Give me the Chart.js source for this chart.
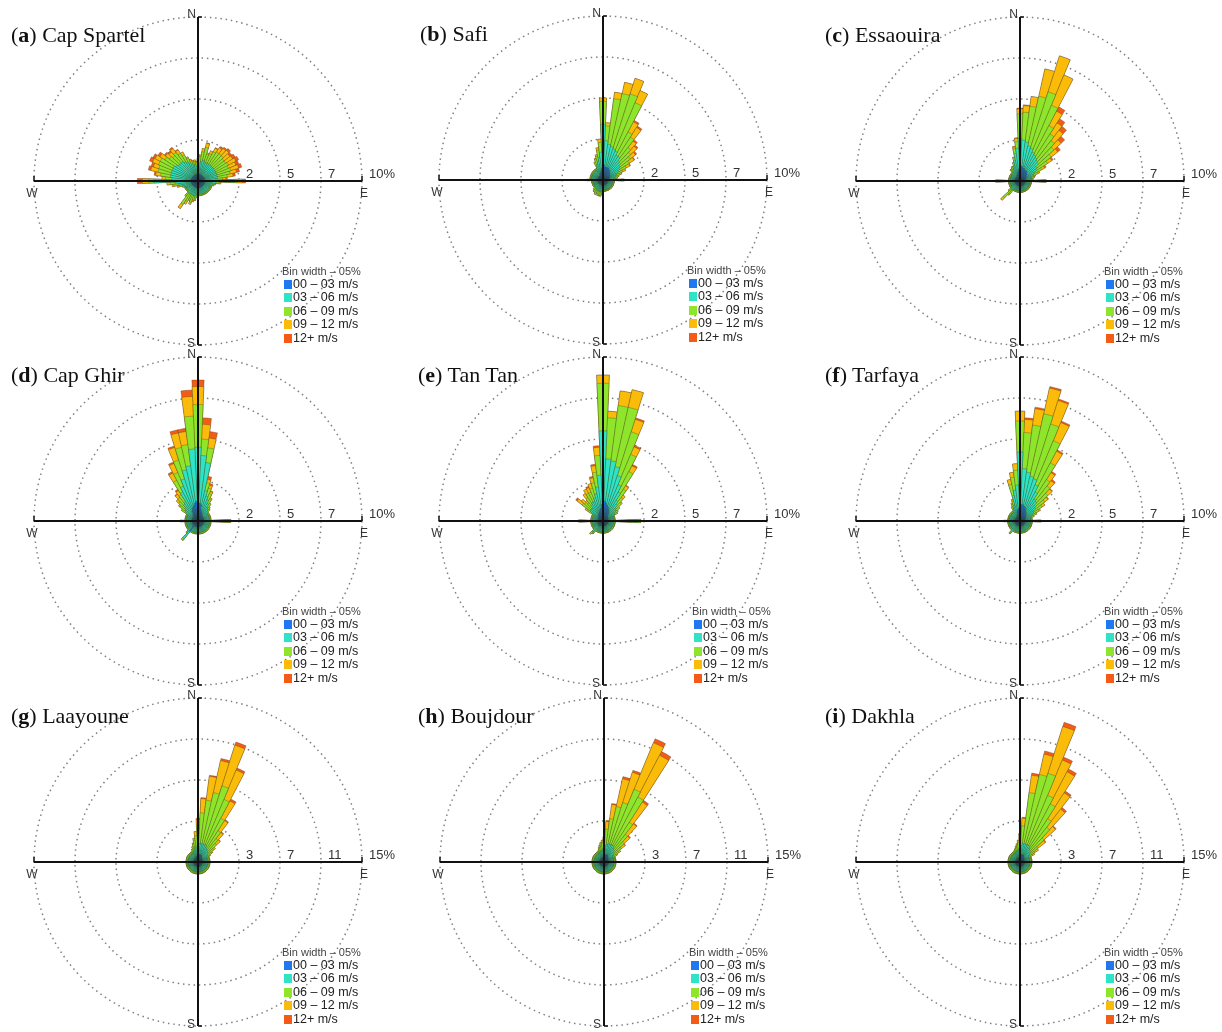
<!DOCTYPE html>
<html>
<head>
<meta charset="utf-8">
<title>Wind roses</title>
<script src="https://cdn.jsdelivr.net/npm/chart.js@4.4.1/dist/chart.umd.min.js"></script>
<style>
  body { margin: 0; background: #fff; width: 1222px; height: 1032px; position: relative; overflow: hidden; font-family: 'Liberation Sans', Arial, sans-serif; }
  .panel { position: absolute; width: 410px; height: 360px; }
  .title { position: absolute; font-family: 'Liberation Serif', 'Times New Roman', serif; font-size: 22px; line-height: 22px; color: #111; white-space: nowrap; }
  .legend { position: absolute; color: #222; white-space: nowrap; }
  .legend .head { font-size: 11px; line-height: 13px; color: #444; }
  .legend .row { font-size: 12.5px; line-height: 13.4px; height: 13.4px; padding-left: 2px; }
  .legend .sw { display: inline-block; width: 8px; height: 9px; margin-right: 1px; vertical-align: -1px; }
</style>
</head>
<body>
<script>
// direction bins (degrees, 5° wide)
const directions = [0,5,10,15,20,25,30,35,40,45,50,55,60,65,70,75,80,85,90,95,100,105,110,115,
  120,125,130,135,140,145,150,155,160,165,170,175,180,185,190,195,200,205,210,215,220,225,230,235,
  240,245,250,255,260,265,270,275,280,285,290,295,300,305,310,315,320,325,330,335,340,345,350,355];

const speedLabels = ['00 – 03 m/s', '03 – 06 m/s', '06 – 09 m/s', '09 – 12 m/s', '12+ m/s'];
const speedColors = ['#1f78f0', '#2fe3c6', '#8fe52b', '#fbbc09', '#f45b16'];
const ringLabels10 = ['2', '5', '7', '10%'];
const ringLabels15 = ['3', '7', '11', '15%'];

// (a) Cap Spartel
const aBlue = [0.4,0.4,0.4,0.4,0.4,0.4,0.4,0.4,0.4,0.4,0.4,0.4,
  0.4,0.4,0.4,0.4,0.4,0.4,0.4,0.4,0.4,0.4,0.4,0.4,
  0.4,0.4,0.4,0.4,0.4,0.4,0.4,0.4,0.4,0.4,0.4,0.4,
  0.4,0.4,0.4,0.4,0.4,0.4,0.4,0.4,0.4,0.4,0.4,0.4,
  0.4,0.4,0.4,0.4,0.4,0.4,0.4,0.4,0.4,0.4,0.4,0.4,
  0.4,0.4,0.4,0.4,0.4,0.4,0.4,0.4,0.4,0.4,0.4,0.4];
const aCyan = [0.6,0.7,0.8,0.9,0.8,0.8,0.8,0.8,0.8,0.8,0.8,0.8,
  0.8,0.8,0.8,0.8,0.8,0.7,1.8,0.7,0.5,0.5,0.4,0.4,
  0.4,0.4,0.4,0.4,0.4,0.4,0.4,0.4,0.4,0.4,0.4,0.4,
  0.4,0.4,0.5,0.5,0.5,0.5,0.5,0.5,0.5,0.4,0.4,0.4,
  0.4,0.4,0.5,0.6,0.8,1.0,2.3,1.2,1.3,1.3,1.3,1.3,
  1.3,1.2,1.1,1.1,1.1,1.0,0.9,0.8,0.7,0.6,0.6,0.5];
const aGreen = [0.3,0.4,0.6,0.8,0.5,0.6,0.8,0.9,0.9,0.9,0.8,0.8,
  0.9,0.8,0.9,0.8,0.6,0.4,0.2,0.2,0.15,0.1,0.1,0.1,
  0.1,0.1,0.1,0.1,0.1,0.1,0.1,0.1,0.1,0.1,0.1,0.1,
  0.1,0.2,0.3,0.3,0.5,0.3,0.5,0.8,0.2,0.1,0.1,0.1,
  0.1,0.1,0.1,0.2,0.3,0.3,0.3,0.4,0.6,0.8,0.8,0.9,
  0.9,0.8,0.7,0.6,0.7,0.6,0.5,0.3,0.2,0.2,0.2,0.2];
const aYellow = [0.1,0.1,0.2,0.25,0.1,0.2,0.25,0.3,0.4,0.45,0.45,0.5,
  0.5,0.5,0.5,0.4,0.35,0.2,0.3,0.1,0.05,0,0,0,
  0,0,0,0,0,0,0,0,0,0,0,0,
  0,0,0,0.1,0.1,0.1,0.2,0.3,0.1,0,0,0,
  0,0,0,0.1,0.1,0.2,0.4,0.2,0.3,0.45,0.35,0.4,
  0.35,0.35,0.3,0.3,0.3,0.25,0.2,0.1,0.1,0.1,0.1,0.1];
const aRed = [0,0,0,0.05,0,0,0.05,0.1,0.1,0.15,0.15,0.2,
  0.2,0.2,0.2,0.2,0.15,0.1,0.2,0,0,0,0,0,
  0,0,0,0,0,0,0,0,0,0,0,0,
  0,0,0,0,0,0,0,0,0,0,0,0,
  0,0,0,0,0,0,0.3,0,0.1,0.15,0.15,0.2,
  0.15,0.15,0.1,0.1,0.1,0.05,0,0,0,0,0,0];

// (b) Safi
const bBlue = [1.0,0.9,0.8,0.8,0.8,0.8,0.7,0.7,0.6,0.6,0.5,0.5,
  0.5,0.4,0.4,0.4,0.3,0.3,0.3,0.3,0.3,0.3,0.3,0.3,
  0.3,0.3,0.3,0.3,0.3,0.3,0.3,0.3,0.3,0.3,0.3,0.3,
  0.3,0.3,0.3,0.3,0.3,0.3,0.3,0.3,0.3,0.3,0.3,0.3,
  0.3,0.3,0.3,0.3,0.3,0.3,0.3,0.3,0.3,0.3,0.3,0.3,
  0.3,0.3,0.3,0.3,0.3,0.3,0.3,0.4,0.4,0.5,0.6,0.7];
const bCyan = [2.4,1.5,1.4,1.3,1.2,1.1,1.0,1.0,0.9,0.8,0.8,0.7,
  0.6,0.5,0.4,0.4,0.4,0.35,0.9,0.3,0.3,0.3,0.3,0.3,
  0.3,0.3,0.3,0.3,0.3,0.3,0.3,0.3,0.3,0.3,0.3,0.3,
  0.4,0.4,0.4,0.4,0.4,0.4,0.4,0.4,0.4,0.3,0.3,0.3,
  0.3,0.3,0.3,0.3,0.3,0.3,0.6,0.4,0.4,0.4,0.4,0.4,
  0.4,0.4,0.4,0.4,0.4,0.4,0.4,0.5,0.6,0.7,0.8,1.0];
const bGreen = [1.4,0.9,2.8,3.3,3.5,3.2,1.6,1.4,1.0,0.9,0.8,0.7,
  0.5,0.4,0.3,0.2,0.2,0.15,0.1,0.1,0.1,0.1,0.1,0.1,
  0.1,0.1,0.1,0.1,0.1,0.1,0.1,0.1,0.1,0.1,0.1,0.1,
  0.1,0.2,0.3,0.3,0.3,0.2,0.3,0.2,0.2,0.2,0.1,0.1,
  0.1,0.1,0.1,0.1,0.1,0.1,0.1,0.1,0.1,0.1,0.1,0.1,
  0.1,0.1,0.1,0.1,0.1,0.1,0.1,0.3,0.35,0.3,0.45,0.6];
const bYellow = [0.2,0.2,0.4,0.7,1.0,0.8,0.7,0.7,0.5,0.5,0.4,0.35,
  0.25,0.2,0.1,0,0,0,0,0,0,0,0,0,
  0,0,0,0,0,0,0,0,0,0,0,0,
  0,0,0,0,0,0,0,0,0,0,0,0,
  0,0,0,0,0,0,0,0,0,0,0,0,
  0,0,0,0,0,0,0,0,0.05,0.1,0.15,0.2];
const bRed = [0,0,0,0,0,0,0.1,0.1,0.1,0.1,0.1,0.05,
  0.05,0,0,0,0,0,0,0,0,0,0,0,
  0,0,0,0,0,0,0,0,0,0,0,0,
  0,0,0,0,0,0,0,0,0,0,0,0,
  0,0,0,0,0,0,0,0,0,0,0,0,
  0,0,0,0,0,0,0,0,0,0,0,0];

// (c) Essaouira
const cBlue = [0.9,0.9,0.9,0.8,0.8,0.7,0.7,0.7,0.6,0.6,0.5,0.5,
  0.4,0.4,0.3,0.3,0.3,0.3,0.3,0.3,0.3,0.3,0.3,0.3,
  0.3,0.3,0.3,0.3,0.3,0.3,0.3,0.3,0.3,0.3,0.3,0.3,
  0.3,0.3,0.3,0.3,0.3,0.3,0.3,0.3,0.3,0.3,0.3,0.3,
  0.3,0.3,0.3,0.3,0.3,0.3,0.3,0.3,0.3,0.3,0.3,0.3,
  0.3,0.3,0.3,0.3,0.3,0.3,0.3,0.4,0.4,0.5,0.6,0.7];
const cCyan = [1.7,1.6,1.5,1.4,1.3,1.2,1.1,1.0,1.0,0.9,0.8,0.7,
  0.6,0.5,0.4,0.4,0.4,0.4,1.2,0.3,0.3,0.3,0.3,0.3,
  0.3,0.3,0.3,0.3,0.3,0.3,0.3,0.3,0.3,0.3,0.3,0.3,
  0.3,0.3,0.3,0.3,0.3,0.3,0.3,0.3,0.4,0.4,0.4,0.3,
  0.3,0.3,0.3,0.3,0.3,0.3,1.1,0.3,0.3,0.3,0.3,0.3,
  0.3,0.3,0.3,0.3,0.4,0.4,0.5,0.5,0.6,0.8,1.1,1.3];
const cGreen = [1.5,1.7,2.2,3.1,3.6,3.1,2.0,1.7,1.5,1.3,1.1,0.8,
  0.5,0.3,0.2,0.2,0.1,0.1,0.1,0.1,0.1,0.1,0.1,0.1,
  0.1,0.1,0.1,0.1,0.1,0.1,0.1,0.1,0.1,0.1,0.1,0.1,
  0.1,0.1,0.1,0.1,0.1,0.1,0.1,0.1,0.3,0.7,0.2,0.1,
  0.1,0.1,0.1,0.1,0.1,0.1,0.1,0.1,0.1,0.1,0.1,0.1,
  0.1,0.1,0.1,0.1,0.2,0.2,0.2,0.1,0.2,0.2,0.3,0.4];
const cYellow = [0.3,0.4,0.6,1.7,2.3,2.0,1.0,0.8,0.8,0.6,0.5,0.3,
  0.2,0.1,0.1,0,0,0,0,0,0,0,0,0,
  0,0,0,0,0,0,0,0,0,0,0,0,
  0,0,0,0,0,0,0,0,0.1,0.2,0,0,
  0,0,0,0,0,0,0,0,0,0,0,0,
  0,0,0,0,0,0,0,0,0,0,0.1,0.2];
const cRed = [0.05,0.05,0,0,0,0,0.3,0.3,0.3,0.3,0.2,0.1,
  0.1,0,0,0,0,0,0,0,0,0,0,0,
  0,0,0,0,0,0,0,0,0,0,0,0,
  0,0,0,0,0,0,0,0,0,0,0,0,
  0,0,0,0,0,0,0,0,0,0,0,0,
  0,0,0,0,0,0,0,0,0,0,0.05,0.05];

// (d) Cap Ghir
const dBlue = [1.2,1.1,1.0,0.7,0.6,0.5,0.5,0.4,0.4,0.4,0.35,0.35,
  0.35,0.35,0.35,0.35,0.35,0.35,0.35,0.35,0.35,0.35,0.35,0.35,
  0.35,0.35,0.35,0.35,0.35,0.35,0.35,0.35,0.35,0.35,0.35,0.35,
  0.35,0.35,0.35,0.35,0.35,0.35,0.35,0.35,0.8,0.5,0.35,0.35,
  0.35,0.35,0.35,0.35,0.35,0.35,0.35,0.35,0.35,0.35,0.35,0.35,
  0.35,0.4,0.4,0.4,0.5,0.5,0.7,0.8,0.9,1.0,1.1,1.2];
const dCyan = [3.3,2.9,2.6,1.2,1.0,0.9,0.7,0.6,0.5,0.4,0.35,0.35,
  0.35,0.35,0.35,0.35,0.35,0.35,1.5,0.35,0.35,0.35,0.35,0.35,
  0.35,0.35,0.35,0.35,0.35,0.35,0.35,0.35,0.35,0.35,0.35,0.35,
  0.35,0.35,0.35,0.35,0.35,0.35,0.35,0.35,0.6,0.4,0.35,0.35,
  0.35,0.35,0.35,0.35,0.35,0.35,0.65,0.35,0.35,0.35,0.35,0.35,
  0.35,0.5,0.6,0.7,0.8,0.9,1.3,1.5,1.8,2.2,2.3,3.2];
const dGreen = [2.6,1.0,0.9,0.5,0.5,0.4,0.3,0.3,0.2,0.2,0.1,0.1,
  0.1,0.1,0.1,0.1,0.1,0.1,0.15,0.1,0.1,0.1,0.1,0.1,
  0.1,0.1,0.1,0.1,0.1,0.1,0.1,0.1,0.1,0.1,0.1,0.1,
  0.1,0.1,0.1,0.1,0.1,0.1,0.1,0.1,0.1,0.1,0.1,0.1,
  0.1,0.1,0.1,0.1,0.1,0.1,0.1,0.1,0.1,0.1,0.1,0.1,
  0.1,0.3,0.4,0.5,0.5,0.5,0.8,0.9,1.2,1.4,1.3,2.0];
const dYellow = [1.1,0.9,0.6,0.2,0.2,0.15,0.1,0,0,0,0,0,
  0,0,0,0,0,0,0,0,0,0,0,0,
  0,0,0,0,0,0,0,0,0,0,0,0,
  0,0,0,0,0,0,0,0,0,0,0,0,
  0,0,0,0,0,0,0,0,0,0,0,0,
  0,0,0.1,0.2,0.25,0.3,0.5,0.6,0.8,0.9,0.8,1.2];
const dRed = [0.4,0.4,0.4,0.2,0.1,0.05,0,0,0,0,0,0,
  0,0,0,0,0,0,0,0,0,0,0,0,
  0,0,0,0,0,0,0,0,0,0,0,0,
  0,0,0,0,0,0,0,0,0,0,0,0,
  0,0,0,0,0,0,0,0,0,0,0,0,
  0,0,0,0,0.05,0.1,0.1,0.1,0.1,0.2,0.2,0.4];

// (e) Tan Tan
const eBlue = [1.4,1.2,1.1,1.0,0.9,0.8,0.7,0.6,0.5,0.4,0.4,0.35,
  0.35,0.3,0.3,0.3,0.3,0.3,0.3,0.3,0.3,0.3,0.3,0.3,
  0.3,0.3,0.3,0.3,0.3,0.3,0.3,0.3,0.3,0.3,0.3,0.3,
  0.3,0.3,0.3,0.3,0.3,0.3,0.3,0.3,0.4,0.4,0.3,0.3,
  0.3,0.3,0.3,0.3,0.3,0.3,0.3,0.3,0.3,0.3,0.3,0.3,
  0.3,0.3,0.4,0.4,0.4,0.5,0.5,0.5,0.6,0.7,0.8,1.0];
const eCyan = [4.1,2.6,2.6,2.4,2.0,1.6,1.3,0.9,0.8,0.7,0.6,0.5,
  0.45,0.35,0.35,0.35,0.35,0.35,1.8,0.35,0.35,0.35,0.35,0.35,
  0.35,0.35,0.35,0.35,0.35,0.35,0.35,0.35,0.35,0.35,0.35,0.35,
  0.35,0.35,0.35,0.35,0.35,0.35,0.35,0.35,0.5,0.5,0.35,0.35,
  0.35,0.35,0.35,0.35,0.35,0.35,1.1,0.35,0.35,0.35,0.35,0.35,
  0.35,0.5,0.6,0.6,0.6,0.7,0.8,0.8,0.9,1.0,1.3,1.8];
const eGreen = [2.9,2.5,3.4,3.7,2.8,2.0,1.4,0.8,0.5,0.4,0.3,0.25,
  0.2,0.1,0.1,0.1,0.1,0.1,0.2,0.1,0.1,0.1,0.1,0.1,
  0.1,0.1,0.1,0.1,0.1,0.1,0.1,0.1,0.1,0.1,0.1,0.1,
  0.1,0.1,0.1,0.1,0.1,0.1,0.1,0.1,0.1,0.2,0.1,0.1,
  0.1,0.1,0.1,0.1,0.1,0.1,0.1,0.1,0.1,0.1,0.1,0.1,
  0.1,0.3,0.6,0.5,0.4,0.5,0.6,0.6,0.6,0.7,0.9,1.2];
const eYellow = [0.5,0.4,0.9,1.1,0.8,0.5,0.4,0.25,0.2,0.1,0,0,
  0,0,0,0,0,0,0,0,0,0,0,0,
  0,0,0,0,0,0,0,0,0,0,0,0,
  0,0,0,0,0,0,0,0,0,0,0,0,
  0,0,0,0,0,0,0,0,0,0,0,0,
  0,0.2,0.4,0.3,0.2,0.3,0.3,0.3,0.3,0.3,0.4,0.5];
const eRed = [0,0,0,0,0.1,0.1,0.1,0.05,0,0,0,0,
  0,0,0,0,0,0,0,0,0,0,0,0,
  0,0,0,0,0,0,0,0,0,0,0,0,
  0,0,0,0,0,0,0,0,0,0,0,0,
  0,0,0,0,0,0,0,0,0,0,0,0,
  0,0,0.1,0,0,0,0,0.1,0,0.1,0.1,0.1];

// (f) Tarfaya
const fBlue = [1.1,1.0,1.0,0.9,0.9,0.8,0.7,0.6,0.6,0.5,0.5,0.4,
  0.4,0.35,0.3,0.3,0.3,0.3,0.3,0.3,0.3,0.3,0.3,0.3,
  0.3,0.3,0.3,0.3,0.3,0.3,0.3,0.3,0.3,0.3,0.3,0.3,
  0.3,0.3,0.3,0.3,0.3,0.3,0.3,0.3,0.4,0.3,0.3,0.3,
  0.3,0.3,0.3,0.3,0.3,0.3,0.3,0.3,0.3,0.3,0.3,0.3,
  0.3,0.3,0.3,0.3,0.3,0.3,0.3,0.4,0.4,0.6,0.7,0.8];
const fCyan = [3.1,2.2,2.0,1.9,1.8,1.6,1.3,1.0,0.9,0.8,0.7,0.6,
  0.5,0.45,0.4,0.35,0.35,0.35,0.9,0.35,0.35,0.35,0.35,0.35,
  0.35,0.35,0.35,0.35,0.35,0.35,0.35,0.35,0.35,0.35,0.35,0.35,
  0.35,0.35,0.35,0.35,0.35,0.35,0.35,0.35,0.5,0.35,0.35,0.35,
  0.35,0.35,0.35,0.35,0.35,0.35,0.6,0.35,0.35,0.35,0.35,0.35,
  0.35,0.35,0.35,0.35,0.35,0.35,0.5,0.5,0.6,1.0,1.2,1.4];
const fGreen = [1.9,2.2,2.9,3.9,3.5,2.9,2.0,1.4,1.2,1.0,0.7,0.6,
  0.4,0.3,0.2,0.1,0.1,0.1,0.1,0.1,0.1,0.1,0.1,0.1,
  0.1,0.1,0.1,0.1,0.1,0.1,0.1,0.1,0.1,0.1,0.1,0.1,
  0.1,0.1,0.1,0.1,0.1,0.1,0.1,0.1,0.1,0.1,0.1,0.1,
  0.1,0.1,0.1,0.1,0.1,0.1,0.1,0.1,0.1,0.1,0.1,0.1,
  0.1,0.1,0.1,0.1,0.1,0.1,0.2,0.2,0.3,0.7,0.8,0.9];
const fYellow = [0.6,0.8,1.0,1.6,1.5,1.2,0.8,0.5,0.4,0.35,0.25,0.2,
  0.1,0,0,0,0,0,0,0,0,0,0,0,
  0,0,0,0,0,0,0,0,0,0,0,0,
  0,0,0,0,0,0,0,0,0,0,0,0,
  0,0,0,0,0,0,0,0,0,0,0,0,
  0,0,0,0,0,0,0,0.1,0.1,0.3,0.3,0.4];
const fRed = [0,0.1,0.1,0.1,0.1,0.1,0.1,0.1,0.1,0.05,0.05,0,
  0,0,0,0,0,0,0,0,0,0,0,0,
  0,0,0,0,0,0,0,0,0,0,0,0,
  0,0,0,0,0,0,0,0,0,0,0,0,
  0,0,0,0,0,0,0,0,0,0,0,0,
  0,0,0,0,0,0,0,0,0,0,0,0];

// (g) Laayoune
const gBlue = [0.6,0.7,0.7,0.7,0.7,0.7,0.6,0.6,0.5,0.5,0.5,0.4,
  0.4,0.4,0.4,0.4,0.4,0.4,0.4,0.4,0.4,0.4,0.4,0.4,
  0.4,0.4,0.4,0.4,0.4,0.4,0.4,0.4,0.4,0.4,0.4,0.4,
  0.4,0.4,0.4,0.4,0.4,0.4,0.4,0.4,0.4,0.4,0.4,0.4,
  0.4,0.4,0.4,0.4,0.4,0.4,0.4,0.4,0.4,0.4,0.4,0.4,
  0.4,0.4,0.4,0.4,0.4,0.4,0.4,0.4,0.4,0.5,0.5,0.5];
const gCyan = [1.0,1.0,1.0,1.0,1.0,1.0,0.9,0.8,0.8,0.7,0.6,0.6,
  0.5,0.5,0.5,0.5,0.5,0.5,0.5,0.5,0.5,0.5,0.5,0.5,
  0.5,0.5,0.5,0.5,0.5,0.5,0.5,0.5,0.5,0.5,0.5,0.5,
  0.5,0.5,0.5,0.5,0.5,0.5,0.5,0.5,0.5,0.5,0.5,0.5,
  0.5,0.5,0.5,0.5,0.5,0.5,0.5,0.5,0.5,0.5,0.5,0.5,
  0.5,0.5,0.5,0.5,0.5,0.5,0.5,0.6,0.7,0.7,0.8,0.9];
const gGreen = [1.8,2.8,4.0,4.8,5.6,4.5,3.0,2.0,1.4,1.1,0.7,0.5,
  0.3,0.2,0.2,0.2,0.2,0.2,0.2,0.2,0.2,0.2,0.2,0.2,
  0.2,0.2,0.2,0.2,0.2,0.2,0.2,0.2,0.2,0.2,0.2,0.2,
  0.2,0.2,0.2,0.2,0.2,0.2,0.2,0.2,0.2,0.2,0.2,0.2,
  0.2,0.2,0.2,0.2,0.2,0.2,0.2,0.2,0.2,0.2,0.2,0.2,
  0.2,0.2,0.2,0.2,0.2,0.2,0.2,0.3,0.4,0.5,0.7,1.0];
const gYellow = [0.5,1.3,2.2,3.0,3.9,2.9,1.8,1.1,0.7,0.45,0.2,0.1,
  0.1,0,0,0,0,0,0,0,0,0,0,0,
  0,0,0,0,0,0,0,0,0,0,0,0,
  0,0,0,0,0,0,0,0,0,0,0,0,
  0,0,0,0,0,0,0,0,0,0,0,0,
  0,0,0,0,0,0,0,0,0,0.1,0.2,0.4];
const gRed = [0.1,0.1,0.1,0.2,0.3,0.2,0.2,0.1,0.1,0.05,0,0,
  0,0,0,0,0,0,0,0,0,0,0,0,
  0,0,0,0,0,0,0,0,0,0,0,0,
  0,0,0,0,0,0,0,0,0,0,0,0,
  0,0,0,0,0,0,0,0,0,0,0,0,
  0,0,0,0,0,0,0,0,0,0,0,0];

// (h) Boujdour
const hBlue = [0.5,0.6,0.6,0.7,0.7,0.7,0.7,0.6,0.6,0.5,0.5,0.4,
  0.4,0.4,0.4,0.4,0.4,0.4,0.4,0.4,0.4,0.4,0.4,0.4,
  0.4,0.4,0.4,0.4,0.4,0.4,0.4,0.4,0.4,0.4,0.4,0.4,
  0.4,0.4,0.4,0.4,0.4,0.4,0.4,0.4,0.4,0.4,0.4,0.4,
  0.4,0.4,0.4,0.4,0.4,0.4,0.4,0.4,0.4,0.4,0.4,0.4,
  0.4,0.4,0.4,0.4,0.4,0.4,0.4,0.4,0.4,0.4,0.4,0.5];
const hCyan = [0.8,0.9,1.0,1.0,1.0,1.0,1.0,0.9,0.8,0.7,0.6,0.6,
  0.5,0.5,0.5,0.5,0.5,0.5,0.5,0.5,0.5,0.5,0.5,0.5,
  0.5,0.5,0.5,0.5,0.5,0.5,0.5,0.5,0.5,0.5,0.5,0.5,
  0.5,0.5,0.5,0.5,0.5,0.5,0.5,0.5,0.5,0.5,0.5,0.5,
  0.5,0.5,0.5,0.5,0.5,0.5,0.5,0.5,0.5,0.5,0.5,0.5,
  0.5,0.5,0.5,0.5,0.5,0.5,0.5,0.5,0.6,0.6,0.7,0.7];
const hGreen = [0.8,1.5,2.4,3.5,4.0,5.5,5.0,2.8,1.8,1.3,0.9,0.6,
  0.4,0.2,0.2,0.2,0.2,0.2,0.2,0.2,0.2,0.2,0.2,0.2,
  0.2,0.2,0.2,0.2,0.2,0.2,0.2,0.2,0.2,0.2,0.2,0.2,
  0.2,0.2,0.2,0.2,0.2,0.2,0.2,0.2,0.2,0.2,0.2,0.2,
  0.2,0.2,0.2,0.2,0.2,0.2,0.2,0.2,0.2,0.2,0.2,0.2,
  0.2,0.2,0.2,0.2,0.2,0.2,0.2,0.3,0.4,0.5,0.6,0.6];
const hYellow = [0.2,0.7,1.3,2.6,2.9,4.6,4.3,2.2,1.2,0.7,0.45,0.2,
  0.1,0,0,0,0,0,0,0,0,0,0,0,
  0,0,0,0,0,0,0,0,0,0,0,0,
  0,0,0,0,0,0,0,0,0,0,0,0,
  0,0,0,0,0,0,0,0,0,0,0,0,
  0,0,0,0,0,0,0,0,0,0.1,0.1,0.2];
const hRed = [0,0.1,0.1,0.2,0.2,0.4,0.4,0.2,0.1,0.1,0.05,0,
  0,0,0,0,0,0,0,0,0,0,0,0,
  0,0,0,0,0,0,0,0,0,0,0,0,
  0,0,0,0,0,0,0,0,0,0,0,0,
  0,0,0,0,0,0,0,0,0,0,0,0,
  0,0,0,0,0,0,0,0,0,0,0,0];

// (i) Dakhla
const iBlue = [0.5,0.6,0.7,0.7,0.7,0.7,0.7,0.6,0.6,0.5,0.5,0.4,
  0.4,0.4,0.4,0.4,0.4,0.4,0.4,0.4,0.4,0.4,0.4,0.4,
  0.4,0.4,0.4,0.4,0.4,0.4,0.4,0.4,0.4,0.4,0.4,0.4,
  0.4,0.4,0.4,0.4,0.4,0.4,0.4,0.4,0.4,0.4,0.4,0.4,
  0.4,0.4,0.4,0.4,0.4,0.4,0.4,0.4,0.4,0.4,0.4,0.4,
  0.4,0.4,0.4,0.4,0.4,0.4,0.4,0.4,0.4,0.4,0.4,0.5];
const iCyan = [0.8,0.9,1.0,1.0,1.0,1.0,1.0,0.9,0.8,0.7,0.6,0.6,
  0.5,0.5,0.5,0.5,0.5,0.5,0.5,0.5,0.5,0.5,0.5,0.5,
  0.5,0.5,0.5,0.5,0.5,0.5,0.5,0.5,0.5,0.5,0.5,0.5,
  0.5,0.5,0.5,0.5,0.5,0.5,0.5,0.5,0.5,0.5,0.5,0.5,
  0.5,0.5,0.5,0.5,0.5,0.5,0.5,0.5,0.5,0.5,0.5,0.5,
  0.5,0.5,0.5,0.5,0.5,0.5,0.5,0.5,0.6,0.6,0.7,0.7];
const iGreen = [1.0,1.8,4.7,6.5,6.8,4.9,4.3,3.2,2.6,1.8,1.0,0.6,
  0.4,0.2,0.2,0.2,0.2,0.2,0.2,0.2,0.2,0.2,0.2,0.2,
  0.2,0.2,0.2,0.2,0.2,0.2,0.2,0.2,0.2,0.2,0.2,0.2,
  0.2,0.2,0.2,0.2,0.2,0.2,0.2,0.2,0.2,0.2,0.2,0.2,
  0.2,0.2,0.2,0.2,0.2,0.2,0.2,0.2,0.2,0.2,0.2,0.2,
  0.2,0.2,0.2,0.2,0.2,0.2,0.2,0.3,0.3,0.4,0.5,0.6];
const iYellow = [0.3,0.7,1.6,1.9,4.5,3.5,3.3,2.8,2.1,1.4,0.8,0.4,
  0.2,0,0,0,0,0,0,0,0,0,0,0,
  0,0,0,0,0,0,0,0,0,0,0,0,
  0,0,0,0,0,0,0,0,0,0,0,0,
  0,0,0,0,0,0,0,0,0,0,0,0,
  0,0,0,0,0,0,0,0,0,0.1,0.1,0.2];
const iRed = [0,0.1,0.2,0.3,0.4,0.3,0.3,0.2,0.2,0.1,0.1,0,
  0,0,0,0,0,0,0,0,0,0,0,0,
  0,0,0,0,0,0,0,0,0,0,0,0,
  0,0,0,0,0,0,0,0,0,0,0,0,
  0,0,0,0,0,0,0,0,0,0,0,0,
  0,0,0,0,0,0,0,0,0,0,0,0];

// panel layout
const panels = [
  { tag: 'a', name: 'Cap Spartel', cx: 198, cy: 181, tx: 11, max: 10, rings: ringLabels10, series: [aBlue, aCyan, aGreen, aYellow, aRed], ldx: 85 },
  { tag: 'b', name: 'Safi', cx: 603, cy: 180, tx: 420, max: 10, rings: ringLabels10, series: [bBlue, bCyan, bGreen, bYellow, bRed], ldx: 85 },
  { tag: 'c', name: 'Essaouira', cx: 1020, cy: 181, tx: 825, max: 10, rings: ringLabels10, series: [cBlue, cCyan, cGreen, cYellow, cRed], ldx: 85 },
  { tag: 'd', name: 'Cap Ghir', cx: 198, cy: 521, tx: 11, max: 10, rings: ringLabels10, series: [dBlue, dCyan, dGreen, dYellow, dRed], ldx: 85 },
  { tag: 'e', name: 'Tan Tan', cx: 603, cy: 521, tx: 418, max: 10, rings: ringLabels10, series: [eBlue, eCyan, eGreen, eYellow, eRed], ldx: 90 },
  { tag: 'f', name: 'Tarfaya', cx: 1020, cy: 521, tx: 825, max: 10, rings: ringLabels10, series: [fBlue, fCyan, fGreen, fYellow, fRed], ldx: 85 },
  { tag: 'g', name: 'Laayoune', cx: 198, cy: 862, tx: 11, max: 15, rings: ringLabels15, series: [gBlue, gCyan, gGreen, gYellow, gRed], ldx: 85 },
  { tag: 'h', name: 'Boujdour', cx: 604, cy: 862, tx: 418, max: 15, rings: ringLabels15, series: [hBlue, hCyan, hGreen, hYellow, hRed], ldx: 86 },
  { tag: 'i', name: 'Dakhla', cx: 1020, cy: 862, tx: 825, max: 15, rings: ringLabels15, series: [iBlue, iCyan, iGreen, iYellow, iRed], ldx: 85 }
];

// compass cross, N/S/E/W and ring labels
const compassPlugin = {
  id: 'compass',
  afterDatasetsDraw(chart) {
    const r = chart.scales.r;
    const ctx = chart.ctx;
    const cx = r.xCenter, cy = r.yCenter, R = r.drawingArea;
    ctx.save();
    ctx.strokeStyle = '#111';
    ctx.lineWidth = 2;
    ctx.beginPath();
    ctx.moveTo(cx - R, cy); ctx.lineTo(cx + R, cy);
    ctx.moveTo(cx, cy - R); ctx.lineTo(cx, cy + R);
    ctx.stroke();
    ctx.lineWidth = 1.5;
    ctx.beginPath();
    ctx.moveTo(cx - R, cy - 5); ctx.lineTo(cx - R, cy);
    ctx.moveTo(cx + R, cy - 5); ctx.lineTo(cx + R, cy);
    ctx.moveTo(cx, cy - R); ctx.lineTo(cx + 4, cy - R);
    ctx.moveTo(cx, cy + R); ctx.lineTo(cx + 4, cy + R);
    ctx.stroke();

    ctx.fillStyle = '#333';
    ctx.font = '12px "Liberation Sans", Arial, sans-serif';
    ctx.textBaseline = 'middle';
    ctx.textAlign = 'right';
    ctx.fillText('N', cx - 2, cy - R - 2);
    ctx.fillText('S', cx - 3, cy + R - 1);
    ctx.textAlign = 'center';
    ctx.fillText('W', cx - R - 2, cy + 13);
    ctx.fillText('E', cx + R + 2, cy + 13);

    const labels = chart.options.plugins.compass.rings;
    ctx.font = '13px "Liberation Sans", Arial, sans-serif';
    ctx.textAlign = 'left';
    r.ticks.filter(t => t.value > 0).forEach((t, k) => {
      const d = r.getDistanceFromCenterForValue(t.value);
      ctx.fillText(labels[k], cx + d + 7, cy - 7);
    });
    ctx.restore();
  }
};

function stackSeries(series) {
  let run = directions.map(() => 0);
  return series.map(s => {
    run = run.map((v, i) => Math.round((v + s[i]) * 100) / 100);
    return run;
  });
}

panels.forEach(p => {
  const box = document.createElement('div');
  box.className = 'panel';
  box.style.left = (p.cx - 190) + 'px';
  box.style.top = (p.cy - 180) + 'px';
  const canvas = document.createElement('canvas');
  canvas.width = 410;
  canvas.height = 360;
  box.appendChild(canvas);
  document.body.appendChild(box);

  const stacks = stackSeries(p.series);
  new Chart(canvas.getContext('2d'), {
    type: 'polarArea',
    data: {
      labels: directions.map(d => d + '°'),
      datasets: stacks.map((vals, k) => ({
        label: speedLabels[k],
        data: vals,
        backgroundColor: speedColors[k],
        borderColor: 'rgba(50,55,30,0.6)',
        borderWidth: 0.5
      }))
    },
    options: {
      responsive: false,
      animation: false,
      devicePixelRatio: 1,
      layout: { padding: { left: 26, right: 56, top: 16, bottom: 16 } },
      plugins: {
        legend: { display: false },
        tooltip: { enabled: false },
        compass: { rings: p.rings }
      },
      scales: {
        r: {
          min: 0,
          max: p.max,
          startAngle: -2.5,
          ticks: { display: false, stepSize: p.max / 4 },
          grid: { circular: true, color: '#808080', lineWidth: 1.5 },
          border: { dash: [1.5, 3.8] },
          angleLines: { display: false },
          pointLabels: { display: false }
        }
      }
    },
    plugins: [compassPlugin]
  });

  const title = document.createElement('div');
  title.className = 'title';
  title.style.left = p.tx + 'px';
  title.style.top = (p.cy - 157) + 'px';
  title.innerHTML = '(<b>' + p.tag + '</b>) ' + p.name;
  document.body.appendChild(title);

  const legend = document.createElement('div');
  legend.className = 'legend';
  legend.style.left = (p.cx + p.ldx - 1) + 'px';
  legend.style.top = (p.cy + 84) + 'px';
  legend.innerHTML = '<div class="head">Bin width – 05%</div>' +
    speedLabels.map((s, k) => '<div class="row"><span class="sw" style="background:' + speedColors[k] + '"></span>' + s + '</div>').join('');
  document.body.appendChild(legend);
});
</script>
</body>
</html>
